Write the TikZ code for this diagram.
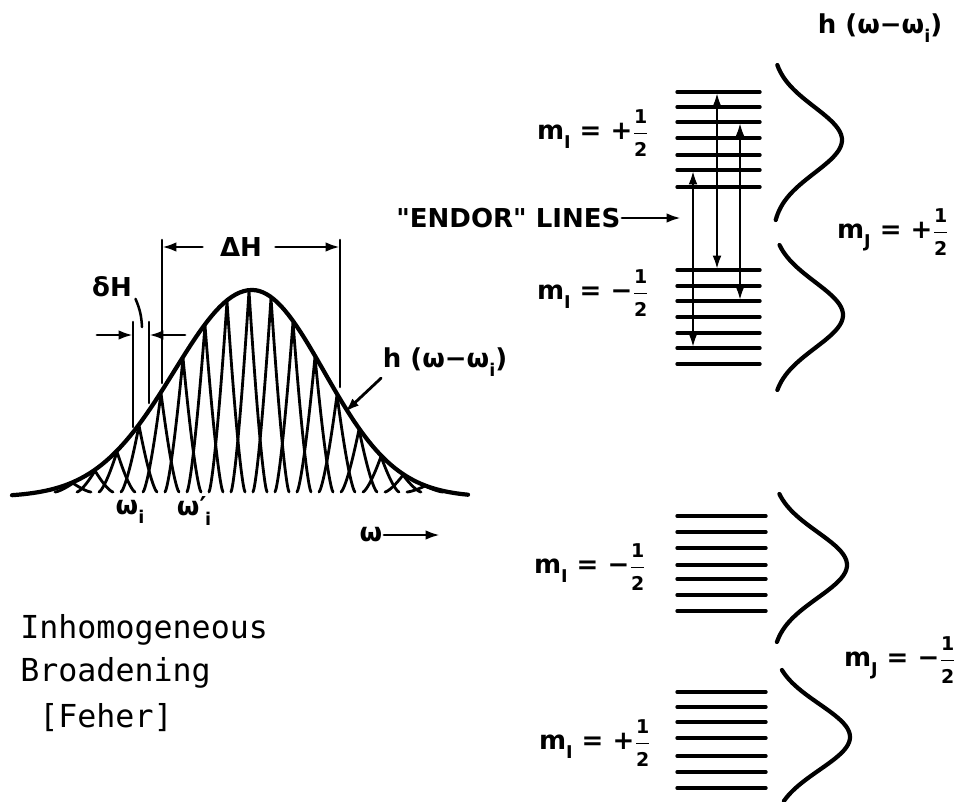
\documentclass[tikz,border=0pt]{standalone}
\usepackage{amsmath}
\usepackage{fontspec}
\setmainfont{DejaVu Sans}
\newfontfamily\maquina{DejaVu Sans Mono}
\usetikzlibrary{arrows.meta}
\newcommand{\half}{\ensuremath{\genfrac{}{}{0.8pt}{0}{\textbf{\fontsize{13.5}{14}\selectfont 1}}{\textbf{\fontsize{13.5}{14}\selectfont 2}}}}
\newcommand{\sub}[1]{\raisebox{-0.35em}{\fontsize{12.5}{13}\selectfont #1}}
\tikzset{
  rotulo/.style={font=\fontsize{18.5}{21}\selectfont\bfseries, inner sep=1pt},
  texto/.style={font=\maquina\fontsize{22.5}{32}\selectfont, inner sep=0pt},
  nivel/.style={line width=2.4pt},
  perfil/.style={line width=3pt},
  marca/.style={line width=1.8pt},
  flecha/.style={line width=2pt, -{Latex[length=0.36cm,width=0.24cm]}},
  transicion/.style={line width=2pt, {Latex[length=0.36cm,width=0.22cm]}-{Latex[length=0.36cm,width=0.22cm]}},
}
\begin{document}
\begin{tikzpicture}[x=0.025cm, y=-0.025cm, line cap=round]
  \useasboundingbox (0,0) rectangle (964,801);

  % Envolvente h(w - w_i)
  \draw[perfil] plot[domain=12:252, samples=60] (\x, {497-207*exp(-((\x-252)/78)^2/2)})
    -- plot[domain=252:468, samples=60] (\x, {497-207*exp(-((\x-252)/72)^2/2)});

  % Lineas individuales bajo la envolvente
  \foreach \c in {73,95,...,425} {
    \pgfmathsetmacro{\s}{\c<252 ? 78 : 72}
    \pgfmathsetmacro{\h}{max(207*exp(-((\c-252)/\s)^2/2)-6, 6)}
    \pgfmathsetmacro{\a}{\c-18}
    \pgfmathsetmacro{\b}{\c+18}
    \draw[line width=2pt, line join=round] plot[domain=\a:\b, samples=37] (\x, {492-\h*(1-abs(\x-\c)/18)^1.4});
  }

  % Marcas de anchura
  \coordinate (v1a) at (133,322); \coordinate (v1b) at (133,427);
  \coordinate (v2a) at (149,322); \coordinate (v2b) at (149,403);
  \coordinate (v3a) at (162,240); \coordinate (v3b) at (162,383);
  \coordinate (v4a) at (340,240); \coordinate (v4b) at (340,387);
  \draw[marca] (v1a) -- (v1b);
  \draw[marca] (v2a) -- (v2b);
  \draw[marca] (v3a) -- (v3b);
  \draw[marca] (v4a) -- (v4b);

  % Anchura total Delta H
  \node[rotulo] (DH) at (241,247) {ΔH};
  \draw[flecha] ([xshift=-0.4cm]DH.west) -- (DH.west -| v3a);
  \draw[flecha] ([xshift=0.3cm]DH.east) -- (DH.east -| v4a);

  % Anchura de una linea delta H
  \node[rotulo] (dH) at (112,287) {δH};
  \coordinate (dHi) at (97,335);
  \coordinate (dHd) at (185,335);
  \draw[flecha] (dHi) -- (dHi -| v1a);
  \draw[flecha] (dHd) -- (dHd -| v2a);
  \draw[marca] ([xshift=0.05cm]dH.south east) to[bend left=10] (142,327);

  % Etiquetas del perfil
  \node[rotulo] (wi) at (130,512) {ω\sub{i}};
  \node[rotulo] (wpi) at (194,511) {ω′\kern-1pt\sub{i}};
  \node[rotulo] (hw) at (445,362) {h (ω−ω\sub{i})};
  \coordinate (hp) at (345,412);
  \draw[flecha] (hw.south west) -- (hp);
  \node[rotulo] (w) at (371,535) {ω};
  \coordinate (wf) at (440,535);
  \draw[flecha] (w.east) -- (wf);

  % Texto
  \node[texto, anchor=base west] (t1) at (20,638) {Inhomogeneous};
  \node[texto, anchor=base west] (t2) at (20,681) {Broadening};
  \node[texto, anchor=base west] (t3) at (39,727) {[Feher]};

  % Niveles m_J = +1/2
  \foreach \y [count=\i] in {92,107,122,138,155,170,187} {
    \draw[nivel] (677,\y) -- (760,\y);
    \coordinate (p\i) at (677,\y);
  }
  \foreach \y [count=\i] in {270,286,301,317,333,348,364} {
    \draw[nivel] (677,\y) -- (760,\y);
    \coordinate (q\i) at (677,\y);
  }

  % Niveles m_J = -1/2
  \foreach \y [count=\i] in {516,532,548,565,579,595,611} {
    \draw[nivel] (677,\y) -- (766,\y);
    \coordinate (r\i) at (677,\y);
  }
  \foreach \y [count=\i] in {692,707,722,738,756,772,788} {
    \draw[nivel] (677,\y) -- (766,\y);
    \coordinate (s\i) at (677,\y);
  }

  % Transiciones ENDOR
  \coordinate (xa) at (693,0);
  \coordinate (xb) at (717,0);
  \coordinate (xc) at (740,0);
  \draw[transicion] (p6 -| xa) -- (q6 -| xa);
  \draw[transicion] (p1 -| xb) -- (q1 -| xb);
  \draw[transicion] (p3 -| xc) -- (q3 -| xc);
  \node[rotulo, anchor=east] (endor) at (622,218) {\textquotedbl ENDOR\textquotedbl{} LINES};
  \coordinate (ef) at (681,218);
  \draw[flecha] (endor.east) -- (ef);

  % Perfiles de linea a la derecha
  \foreach \yc/\xm/\ya/\yb in {140/70/65/220, 315/71/245/390, 565/75/494/642, 737/78/670/801} {
    \draw[perfil] plot[domain=\ya:\yb, samples=50] ({772+\xm*exp(-((\x-\yc)/33)^2/2)}, \x);
  }

  % Etiquetas de los niveles
  \node[rotulo] (hwtop) at (880,28) {h (ω−ω\sub{i})};
  \node[rotulo] (mIa) at (593,133) {m\sub{I} = +\half};
  \node[rotulo] (mIb) at (593,293) {m\sub{I} = −\half};
  \node[rotulo] (mJa) at (893,232) {m\sub{J} = +\half};
  \node[rotulo] (mIc) at (590,567) {m\sub{I} = −\half};
  \node[rotulo] (mId) at (595,743) {m\sub{I} = +\half};
  \node[rotulo] (mJb) at (900,660) {m\sub{J} = −\half};
\end{tikzpicture}
\end{document}
